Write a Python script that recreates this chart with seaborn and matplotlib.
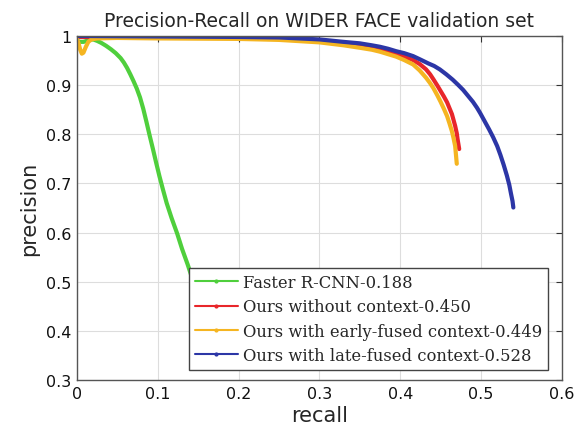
import numpy as np
import pandas as pd
import matplotlib
matplotlib.use("Agg")
import matplotlib.pyplot as plt
import seaborn as sns
from matplotlib.lines import Line2D

# ---- data ----
frcnn_recall = [0.0, 0.004, 0.008, 0.012, 0.016, 0.02, 0.025, 0.03, 0.036, 0.042, 0.048, 0.054, 0.058, 0.062,
                0.066, 0.07, 0.074, 0.078, 0.082, 0.086, 0.09, 0.094, 0.098, 0.102, 0.106, 0.111, 0.117,
                0.124, 0.13, 0.137, 0.144, 0.152, 0.16, 0.168]
frcnn_prec   = [0.99, 0.988, 0.988, 0.99, 0.992, 0.993, 0.99, 0.986, 0.98, 0.973, 0.965, 0.955, 0.946, 0.935,
                0.922, 0.908, 0.893, 0.875, 0.852, 0.825, 0.797, 0.77, 0.742, 0.715, 0.69, 0.66, 0.63,
                0.598, 0.567, 0.535, 0.5, 0.46, 0.42, 0.38]

noctx_recall = [0.0, 0.1, 0.2, 0.25, 0.3, 0.33, 0.35, 0.365, 0.375, 0.385, 0.395, 0.405, 0.416, 0.424,
                0.432, 0.437, 0.441, 0.446, 0.450, 0.454, 0.458, 0.461, 0.464, 0.466, 0.468, 0.470,
                0.471, 0.472, 0.473]
noctx_prec   = [0.998, 0.997, 0.996, 0.995, 0.99, 0.985, 0.981, 0.977, 0.973, 0.969, 0.964, 0.958, 0.951,
                0.943, 0.932, 0.922, 0.912, 0.899, 0.888, 0.877, 0.865, 0.853, 0.841, 0.829, 0.817, 0.802,
                0.79, 0.78, 0.77]

early_recall = [0.0, 0.002, 0.004, 0.006, 0.008, 0.011, 0.014, 0.018, 0.025, 0.05, 0.1, 0.2, 0.25, 0.3,
                0.33, 0.35, 0.365, 0.375, 0.385, 0.395, 0.405, 0.416, 0.424, 0.432, 0.437, 0.441, 0.446,
                0.450, 0.454, 0.458, 0.461, 0.464, 0.466, 0.468, 0.469, 0.470]
early_prec   = [0.994, 0.985, 0.972, 0.964, 0.966, 0.978, 0.988, 0.993, 0.995, 0.996, 0.995, 0.994, 0.992,
                0.987, 0.981, 0.976, 0.972, 0.968, 0.963, 0.958, 0.951, 0.942, 0.93, 0.915, 0.904, 0.894,
                0.879, 0.866, 0.852, 0.837, 0.822, 0.806, 0.792, 0.776, 0.758, 0.74]

late_recall = [0.0, 0.1, 0.2, 0.25, 0.3, 0.33, 0.35, 0.365, 0.375, 0.385, 0.395, 0.405, 0.416, 0.425,
               0.435, 0.442, 0.449, 0.457, 0.465, 0.472, 0.478, 0.484, 0.49, 0.495, 0.499, 0.504, 0.51,
               0.515, 0.52, 0.524, 0.528, 0.532, 0.535, 0.537, 0.539, 0.540]
late_prec   = [1.0, 0.999, 0.998, 0.997, 0.993, 0.988, 0.985, 0.981, 0.978, 0.974, 0.969, 0.965, 0.959,
               0.952, 0.944, 0.939, 0.932, 0.922, 0.911, 0.9, 0.89, 0.878, 0.866, 0.854, 0.843, 0.828,
               0.81, 0.794, 0.776, 0.758, 0.738, 0.716, 0.697, 0.68, 0.664, 0.651]

labels = ["Faster R-CNN-0.188", "Ours without context-0.450",
          "Ours with early-fused context-0.449", "Ours with late-fused context-0.528"]
colors = ["#4fcf3c", "#e8262a", "#f5b521", "#2c36a6"]

recalls = [frcnn_recall, noctx_recall, early_recall, late_recall]
precs = [frcnn_prec, noctx_prec, early_prec, late_prec]

rows = []
for lab, r, p in zip(labels, recalls, precs):
    for i, (rv, pv) in enumerate(zip(r, p)):
        rows.append({"method": lab, "recall": rv, "precision": pv, "idx": i})
df = pd.DataFrame(rows)

sns.set_style("white")
plt.rcParams["font.family"] = ["DejaVu Sans"]

fig = plt.figure(figsize=(5.81, 4.35), dpi=100)
ax = fig.add_axes([0.1325, 0.124, 0.8345, 0.791])

sns.lineplot(data=df, x="recall", y="precision", hue="method", units="method",
             estimator=None, sort=False, palette=dict(zip(labels, colors)),
             hue_order=labels, linewidth=3, ax=ax, legend=False,
             solid_joinstyle="round", solid_capstyle="round")

ax.set_xlim(0, 0.6)
ax.set_ylim(0.3, 1.0)
ax.set_xticks([0, 0.1, 0.2, 0.3, 0.4, 0.5, 0.6])
ax.set_xticklabels(["0", "0.1", "0.2", "0.3", "0.4", "0.5", "0.6"])
ax.set_yticks([0.3, 0.4, 0.5, 0.6, 0.7, 0.8, 0.9, 1.0])
ax.set_yticklabels(["0.3", "0.4", "0.5", "0.6", "0.7", "0.8", "0.9", "1"])
ax.grid(True, color="#dddddd", linewidth=0.8)
ax.tick_params(direction="in", top=True, right=True, labelsize=11.5, length=4, colors="#333333",
               pad=4)
ax.tick_params(labelcolor="#111111")
for s in ax.spines.values():
    s.set_color("#555555")
    s.set_linewidth(1.0)

ax.set_xlabel("recall", fontsize=15, labelpad=3)
ax.set_ylabel("precision", fontsize=15, labelpad=5)
ax.set_title("Precision-Recall on WIDER FACE validation set", fontsize=13.5, pad=7)

handles = [Line2D([0], [0], color=c, lw=1.5, marker=".", markersize=4) for c in colors]
leg = ax.legend(handles, labels, loc="lower right", bbox_to_anchor=(0.972, 0.03),
                prop={"family": "DejaVu Serif", "size": 11.8}, frameon=True,
                fancybox=False, framealpha=1, edgecolor="#444444",
                handlelength=2.6, handletextpad=0.35, labelspacing=0.45,
                borderpad=0.35, borderaxespad=0.0)
leg.get_frame().set_linewidth(1.0)

fig.savefig("out.png", dpi=100)
